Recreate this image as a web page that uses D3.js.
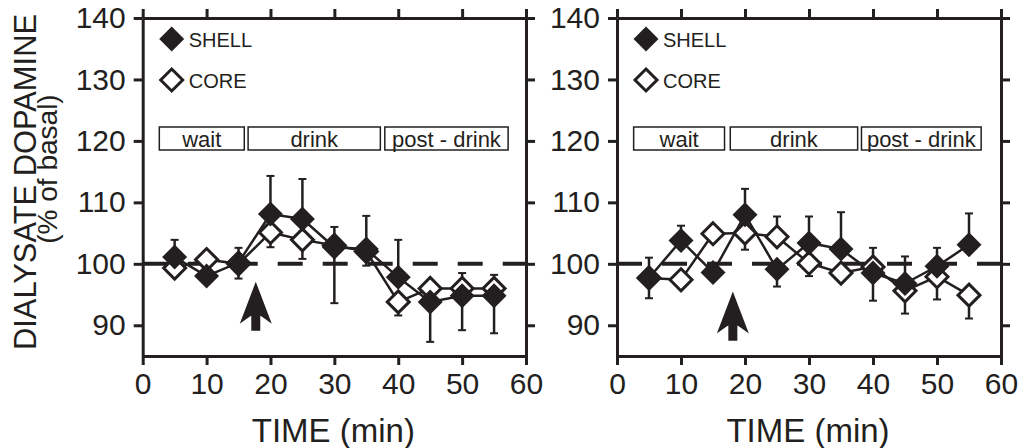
<!DOCTYPE html>
<html>
<head>
<meta charset="utf-8">
<script src="https://cdn.jsdelivr.net/npm/d3@7"></script>
<style>
  body { margin: 0; background: #fff; }
  svg { display: block; font-family: "Liberation Sans", Arial, sans-serif; }
</style>
</head>
<body>
<svg width="1024" height="448"></svg>
<script>
// sample times (min)
var times = [5, 10, 15, 20, 25, 30, 35, 40, 45, 50, 55];

// left panel
var shellA = [101.1, 98.0, 100.2, 108.1, 107.3, 102.7, 102.4, 97.8, 93.8, 94.8, 94.8];
var shellErrA = [2.8, 0, 2.4, 6.2, 6.5, 3.3, 5.4, 6.1, -6.5, -5.6, -6.1]; // sign = bar direction
var coreA = [99.3, 100.7, 100.0, 105.1, 103.9, 103.0, 102.0, 93.8, 96.0, 96.0, 96.0];
var coreErrA = [0, 0, -2.4, -2.4, -3.1, -9.4, -2.3, -2.2, 0, 2.5, 2.2];

// right panel
var shellB = [97.7, 103.8, 98.6, 108.0, 99.1, 103.4, 102.4, 98.5, 96.8, 99.6, 103.1];
var shellErrB = [3.3, 2.4, 0, 4.2, -2.8, 4.3, 6.0, -4.5, 4.4, 3.0, 5.1];
var coreB = [97.7, 97.4, 104.9, 105.0, 104.4, 100.1, 98.5, 99.5, 95.6, 97.9, 94.9];
var coreErrB = [-3.3, 0, 0, -2.7, 3.3, -2.1, 0, 3.1, -3.7, -3.7, -3.8];

// phase boxes
var phaseLabels = ["wait", "drink", "post - drink"];
var phaseStartA = [2.6, 16.5, 37.9], phaseEndA = [15.9, 37.2, 57.2];
var phaseStartB = [2.6, 17.7, 38.2], phaseEndB = [16.8, 37.6, 56.9];

// arrow (time, tip value, tail value)
var arrowA = [17.7, 97.1, 89.1];
var arrowB = [18.1, 95.5, 87.5];

var xTicks = [0, 10, 20, 30, 40, 50, 60];
var yTicks = [90, 100, 110, 120, 130, 140];
var legendLabels = ["SHELL", "CORE"];

var ink = "#231f20";
var svg = d3.select("svg");

var y = d3.scaleLinear().domain([85, 140]).range([356, 18]);

function diamond(r) {
	return "M0," + (-r) + "L" + r + ",0L0," + r + "L" + (-r) + ",0Z";
}

function panel(x0, x1, shell, shellErr, core, coreErr, pStart, pEnd, arrow) {
	var x = d3.scaleLinear().domain([0, 60]).range([x0, x1]);
	var g = svg.append("g");

	// baseline 100%
	g.append("line")
		.attr("x1", x(0)).attr("x2", x(60))
		.attr("y1", y(100)).attr("y2", y(100))
		.attr("stroke", ink).attr("stroke-width", 4)
		.attr("stroke-dasharray", "25,20");

	// axes
	var bottom = g.append("g").attr("transform", "translate(0," + y(85) + ")")
		.call(d3.axisBottom(x).tickValues(xTicks).tickSize(9).tickSizeOuter(0).tickPadding(8));
	var top = g.append("g").attr("transform", "translate(0," + y(140) + ")")
		.call(d3.axisTop(x).tickValues(xTicks).tickSize(9).tickSizeOuter(0).tickFormat(""));
	var left = g.append("g").attr("transform", "translate(" + x(0) + ",0)")
		.call(d3.axisLeft(y).tickValues(yTicks).tickSize(9).tickSizeOuter(0).tickPadding(8));
	var right = g.append("g").attr("transform", "translate(" + x(60) + ",0)")
		.call(d3.axisRight(y).tickValues(yTicks).tickSize(9).tickSizeOuter(0).tickFormat(""));
	[bottom, top, left, right].forEach(function(a) {
		a.selectAll("path, line").attr("stroke", ink).attr("stroke-width", 3);
		a.selectAll("text").attr("fill", ink).style("font-size", "30px");
		a.attr("font-family", null);
	});

	// legend
	legendLabels.forEach(function(lab, i) {
		var ly = 39 + i * 41;
		g.append("path").attr("d", diamond(i ? 11 : 12.5))
			.attr("transform", "translate(" + (x0 + 29) + "," + ly + ")")
			.attr("fill", i ? "#fff" : ink).attr("stroke", ink).attr("stroke-width", i ? 3 : 0);
		g.append("text").attr("x", x0 + 46).attr("y", ly + 8)
			.attr("fill", ink).style("font-size", "20px").text(lab);
	});

	// phase boxes
	phaseLabels.forEach(function(lab, i) {
		g.append("rect")
			.attr("x", x(pStart[i])).attr("y", 127)
			.attr("width", x(pEnd[i]) - x(pStart[i])).attr("height", 23)
			.attr("fill", "#fff").attr("stroke", ink).attr("stroke-width", 1.5);
		g.append("text").attr("x", (x(pStart[i]) + x(pEnd[i])) / 2).attr("y", 147)
			.attr("text-anchor", "middle").attr("fill", ink)
			.style("font-size", "22px").text(lab);
	});

	// arrow
	var ax = x(arrow[0]), tipY = y(arrow[1]), tailY = y(arrow[2]);
	g.append("path")
		.attr("d", "M" + ax + "," + tipY +
			"L" + (ax + 16) + "," + (tipY + 42) +
			"Q" + (ax + 5) + "," + (tipY + 34) + " " + (ax + 4.5) + "," + (tipY + 34) +
			"L" + (ax + 4.5) + "," + tailY +
			"L" + (ax - 4.5) + "," + tailY +
			"L" + (ax - 4.5) + "," + (tipY + 34) +
			"Q" + (ax - 5) + "," + (tipY + 34) + " " + (ax - 16) + "," + (tipY + 42) + "Z")
		.attr("fill", ink);

	var line = d3.line().x(function(d, i) { return x(times[i]); }).y(function(d) { return y(d); });
	[core, shell].forEach(function(s) {
		g.append("path").datum(s).attr("d", line)
			.attr("fill", "none").attr("stroke", ink).attr("stroke-width", 2.5);
	});

	// error bars
	[[core, coreErr], [shell, shellErr]].forEach(function(p) {
		p[1].forEach(function(e, i) {
			if (!e) return;
			var cx = x(times[i]), ey = y(p[0][i] + e);
			g.append("line").attr("x1", cx).attr("x2", cx)
				.attr("y1", y(p[0][i])).attr("y2", ey)
				.attr("stroke", ink).attr("stroke-width", 2.5);
			g.append("line").attr("x1", cx - 4).attr("x2", cx + 4)
				.attr("y1", ey).attr("y2", ey)
				.attr("stroke", ink).attr("stroke-width", 2);
		});
	});

	// markers
	g.selectAll(".core").data(core).enter().append("path")
		.attr("d", diamond(11))
		.attr("transform", function(d, i) { return "translate(" + x(times[i]) + "," + y(d) + ")"; })
		.attr("fill", "#fff").attr("stroke", ink).attr("stroke-width", 3);
	g.selectAll(".shell").data(shell).enter().append("path")
		.attr("d", diamond(12.5))
		.attr("transform", function(d, i) { return "translate(" + x(times[i]) + "," + y(d) + ")"; })
		.attr("fill", ink);

	// x title
	g.append("text").attr("x", (x0 + x1) / 2 - 1).attr("y", 442)
		.attr("text-anchor", "middle").attr("fill", ink)
		.style("font-size", "33px").text("TIME (min)");
}

panel(142.7, 526, shellA, shellErrA, coreA, coreErrA, phaseStartA, phaseEndA, arrowA);
panel(617, 1001, shellB, shellErrB, coreB, coreErrB, phaseStartB, phaseEndB, arrowB);

// y title
svg.append("text")
	.attr("transform", "translate(36,182) rotate(-90)")
	.attr("text-anchor", "middle").attr("fill", ink)
	.attr("textLength", 336).attr("lengthAdjust", "spacingAndGlyphs")
	.style("font-size", "32px").text("DIALYSATE DOPAMINE");
svg.append("text")
	.attr("transform", "translate(57,169) rotate(-90)")
	.attr("text-anchor", "middle").attr("fill", ink)
	.style("font-size", "28px").text("(% of basal)");
</script>
</body>
</html>
